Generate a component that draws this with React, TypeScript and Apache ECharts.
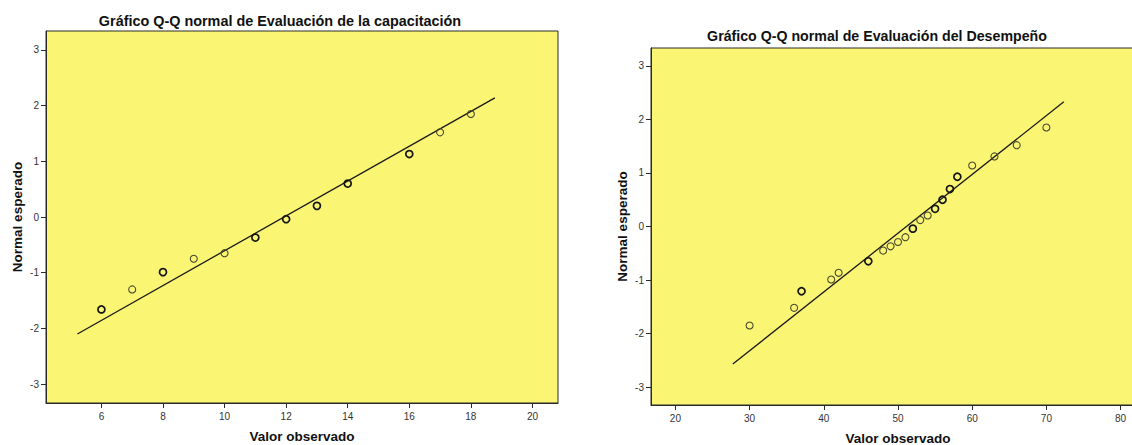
import React, { useEffect, useRef } from "react";
import * as echarts from "echarts";

// ---- Left chart: Evaluación de la capacitación ----
const capObserved = [6, 7, 8, 9, 10, 11, 12, 13, 14, 16, 17, 18];
const capExpected = [-1.66, -1.3, -0.99, -0.75, -0.65, -0.37, -0.04, 0.2, 0.6, 1.13, 1.52, 1.85];
const capRepeated = [true, false, true, false, false, true, true, true, true, true, false, false];
const capLineX = [5.22, 18.78];
const capLineY = [-2.1, 2.14];
const capXTicks = [6, 8, 10, 12, 14, 16, 18, 20];

// ---- Right chart: Evaluación del Desempeño ----
const desObserved = [30, 36, 37, 41, 42, 46, 48, 49, 50, 51, 52, 53, 54, 55, 56, 57, 58, 60, 63, 66, 70];
const desExpected = [-1.85, -1.52, -1.21, -0.99, -0.865, -0.65, -0.45, -0.37, -0.29, -0.2, -0.04, 0.12, 0.205, 0.33, 0.5, 0.7, 0.93, 1.14, 1.31, 1.52, 1.85];
const desRepeated = [false, false, true, false, false, true, false, false, false, false, true, false, false, true, true, true, true, false, false, false, false];
const desLineX = [27.74, 72.35];
const desLineY = [-2.57, 2.33];
const desXTicks = [20, 30, 40, 50, 60, 70, 80];

const yTicks = [-3, -2, -1, 0, 1, 2, 3];

const titles = [
  "Gráfico Q-Q normal de Evaluación de la capacitación",
  "Gráfico Q-Q normal de Evaluación del Desempeño",
];
const xName = "Valor observado";
const yName = "Normal esperado";

const FONT = '"Liberation Sans", Arial, sans-serif';
const YELLOW = "#FAF674";
const DARK = "#2a2a2a";

function pts(xs: number[], ys: number[], flags: boolean[], want: boolean) {
  const out: number[][] = [];
  xs.forEach((x, i) => {
    if (flags[i] === want) out.push([x, ys[i]]);
  });
  return out;
}

function xAxisCfg(gridIndex: number, min: number, max: number, ticks: number[]) {
  return {
    type: "value",
    gridIndex,
    min,
    max,
    name: xName,
    nameLocation: "middle",
    nameGap: 26,
    nameTextStyle: { fontFamily: FONT, fontWeight: "bold", fontSize: 13.5, color: "#111" },
    axisLine: { show: true, onZero: false, lineStyle: { color: DARK, width: 1 } },
    axisTick: { show: true, length: 5, customValues: ticks, lineStyle: { color: DARK } },
    axisLabel: { customValues: ticks, margin: 8, fontFamily: FONT, fontSize: 10, color: "#333" },
    splitLine: { show: false },
  };
}

function yAxisCfg(gridIndex: number, min: number, max: number) {
  return {
    type: "value",
    gridIndex,
    min,
    max,
    name: yName,
    nameLocation: "middle",
    nameGap: 22,
    nameTextStyle: { fontFamily: FONT, fontWeight: "bold", fontSize: 13.5, color: "#111" },
    axisLine: { show: true, onZero: false, lineStyle: { color: DARK, width: 1 } },
    axisTick: { show: true, length: 5, customValues: yTicks, lineStyle: { color: DARK } },
    axisLabel: { customValues: yTicks, margin: 7, fontFamily: FONT, fontSize: 10, color: "#333" },
    splitLine: { show: false },
  };
}

function scatter(idx: number, data: number[][], bold: boolean) {
  return {
    type: "scatter",
    xAxisIndex: idx,
    yAxisIndex: idx,
    data,
    symbol: "circle",
    symbolSize: 7,
    z: 3,
    itemStyle: {
      color: "rgba(0,0,0,0)",
      borderColor: bold ? "#151515" : "#4a4a30",
      borderWidth: bold ? 1.7 : 1.1,
      opacity: 1,
    },
  };
}

function fitLine(idx: number, xs: number[], ys: number[]) {
  return {
    type: "line",
    xAxisIndex: idx,
    yAxisIndex: idx,
    data: xs.map((x, i) => [x, ys[i]]),
    symbol: "none",
    z: 2,
    lineStyle: { color: "#1a1a1a", width: 1.3 },
  };
}

export default function App() {
  const ref = useRef<HTMLDivElement>(null);
  useEffect(() => {
    if (!ref.current) return;
    const chart = echarts.init(ref.current, undefined, { renderer: "svg" });
    chart.setOption({
      animation: false,
      backgroundColor: "#ffffff",
      grid: [
        {
          left: 46, top: 31, width: 512, height: 372,
          show: true, backgroundColor: YELLOW, borderColor: DARK, borderWidth: 1,
          outerBoundsMode: "none",
        },
        {
          left: 651, top: 48, width: 494, height: 357,
          show: true, backgroundColor: YELLOW, borderColor: DARK, borderWidth: 1,
          outerBoundsMode: "none",
        },
      ],
      xAxis: [
        xAxisCfg(0, 4.2, 20.83, capXTicks),
        xAxisCfg(1, 16.71, 83.29, desXTicks),
      ],
      yAxis: [yAxisCfg(0, -3.34, 3.34), yAxisCfg(1, -3.336, 3.336)],
      graphic: [
        {
          type: "text", x: 280, y: 21,
          style: { text: titles[0], font: `bold 14.4px ${FONT}`, fill: "#111", align: "center", verticalAlign: "middle" },
        },
        {
          type: "text", x: 877, y: 36,
          style: { text: titles[1], font: `bold 14.2px ${FONT}`, fill: "#111", align: "center", verticalAlign: "middle" },
        },
      ],
      series: [
        fitLine(0, capLineX, capLineY),
        scatter(0, pts(capObserved, capExpected, capRepeated, false), false),
        scatter(0, pts(capObserved, capExpected, capRepeated, true), true),
        fitLine(1, desLineX, desLineY),
        scatter(1, pts(desObserved, desExpected, desRepeated, false), false),
        scatter(1, pts(desObserved, desExpected, desRepeated, true), true),
      ],
    });
    return () => chart.dispose();
  }, []);
  return (
    <div
      ref={ref}
      style={{ position: "fixed", left: 0, top: 0, width: 1132, height: 445, background: "#fff" }}
    />
  );
}
